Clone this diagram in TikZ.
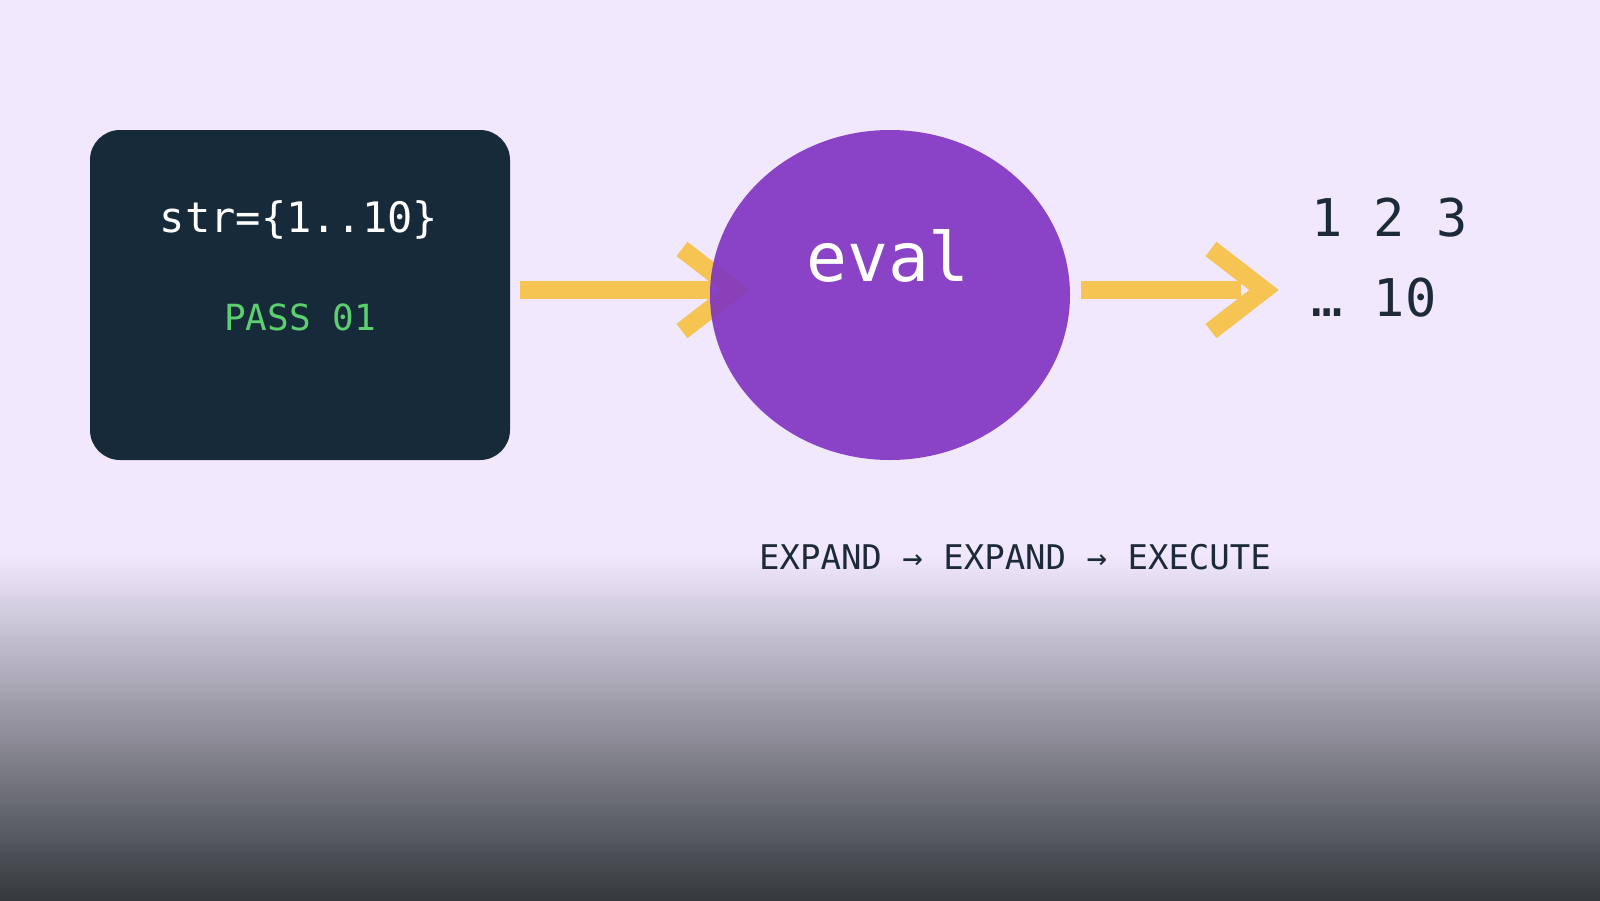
\documentclass[tikz,border=0pt]{standalone}
\usepackage{fontspec}
\setmonofont{DejaVu Sans Mono}
\usetikzlibrary{shapes.geometric}
\definecolor{bg}{HTML}{F1E8FE}
\definecolor{darkbase}{HTML}{33393C}
\definecolor{navy}{HTML}{172A3A}
\definecolor{grn}{HTML}{5CCF6E}
\definecolor{purp}{HTML}{7F32C2}
\definecolor{gold}{HTML}{F5C452}
\definecolor{ink}{HTML}{1C2A3A}
\begin{document}
\begin{tikzpicture}[x=1pt,y=-1pt,
  arrowshaft/.style={draw=gold,line width=18pt,line cap=butt},
  arrowhead/.style={draw=gold,line width=18pt,line cap=butt,line join=miter},
  codebox/.style={fill=navy,rounded corners=30pt,minimum width=420pt,minimum height=330pt,inner sep=0pt},
  evalshape/.style={ellipse,fill=purp,fill opacity=0.9,minimum width=360pt,minimum height=330pt,inner sep=0pt},
  mono/.style={font=\ttfamily,inner sep=0pt}]
\useasboundingbox (0,0) rectangle (1600,900);
\fill[bg] (0,0) rectangle (1600,900);
\shade[top color=bg,bottom color=darkbase] (0,555) rectangle (1600,900);

% source box
\node[codebox] (src) at (300,295) {};
\node[mono,anchor=base,text=white,font=\ttfamily\fontsize{42}{48}\selectfont] (code) at (299,232) {str=\{1..10\}};
\node[mono,anchor=base,text=grn,font=\ttfamily\fontsize{36}{40}\selectfont] (pass) at (300,330) {PASS 01};

% arrow 1 (drawn below the ellipse)
\coordinate (h1) at (735,290);
\draw[arrowshaft] ([xshift=10pt,yshift=5pt]src.east) -- ([xshift=-23pt]h1);
\draw[arrowhead] ([xshift=-53pt,yshift=41pt]h1) -- (h1) -- ([xshift=-53pt,yshift=-41pt]h1);

% eval ellipse
\node[evalshape] (eval) at (890,295) {};
\node[mono,anchor=base,text=white,font=\ttfamily\fontsize{68}{72}\selectfont] (evaltext) at (888,281) {eval};

% output
\node[mono,anchor=base west,text=ink,align=left,font=\ttfamily\fontsize{52}{80}\selectfont] (out) at (1311,316) {1 2 3\\… 10};

% arrow 2
\coordinate (h2) at (1264,290);
\draw[arrowshaft] ([xshift=11pt,yshift=5pt]eval.east) -- ([xshift=-23pt]h2);
\draw[arrowhead] ([xshift=-53pt,yshift=41pt]h2) -- (h2) -- ([xshift=-53pt,yshift=-41pt]h2);

% pipeline label
\node[mono,anchor=base,text=ink,font=\ttfamily\fontsize{34}{40}\selectfont] (steps) at (1015,569) {EXPAND → EXPAND → EXECUTE};
\end{tikzpicture}
\end{document}
